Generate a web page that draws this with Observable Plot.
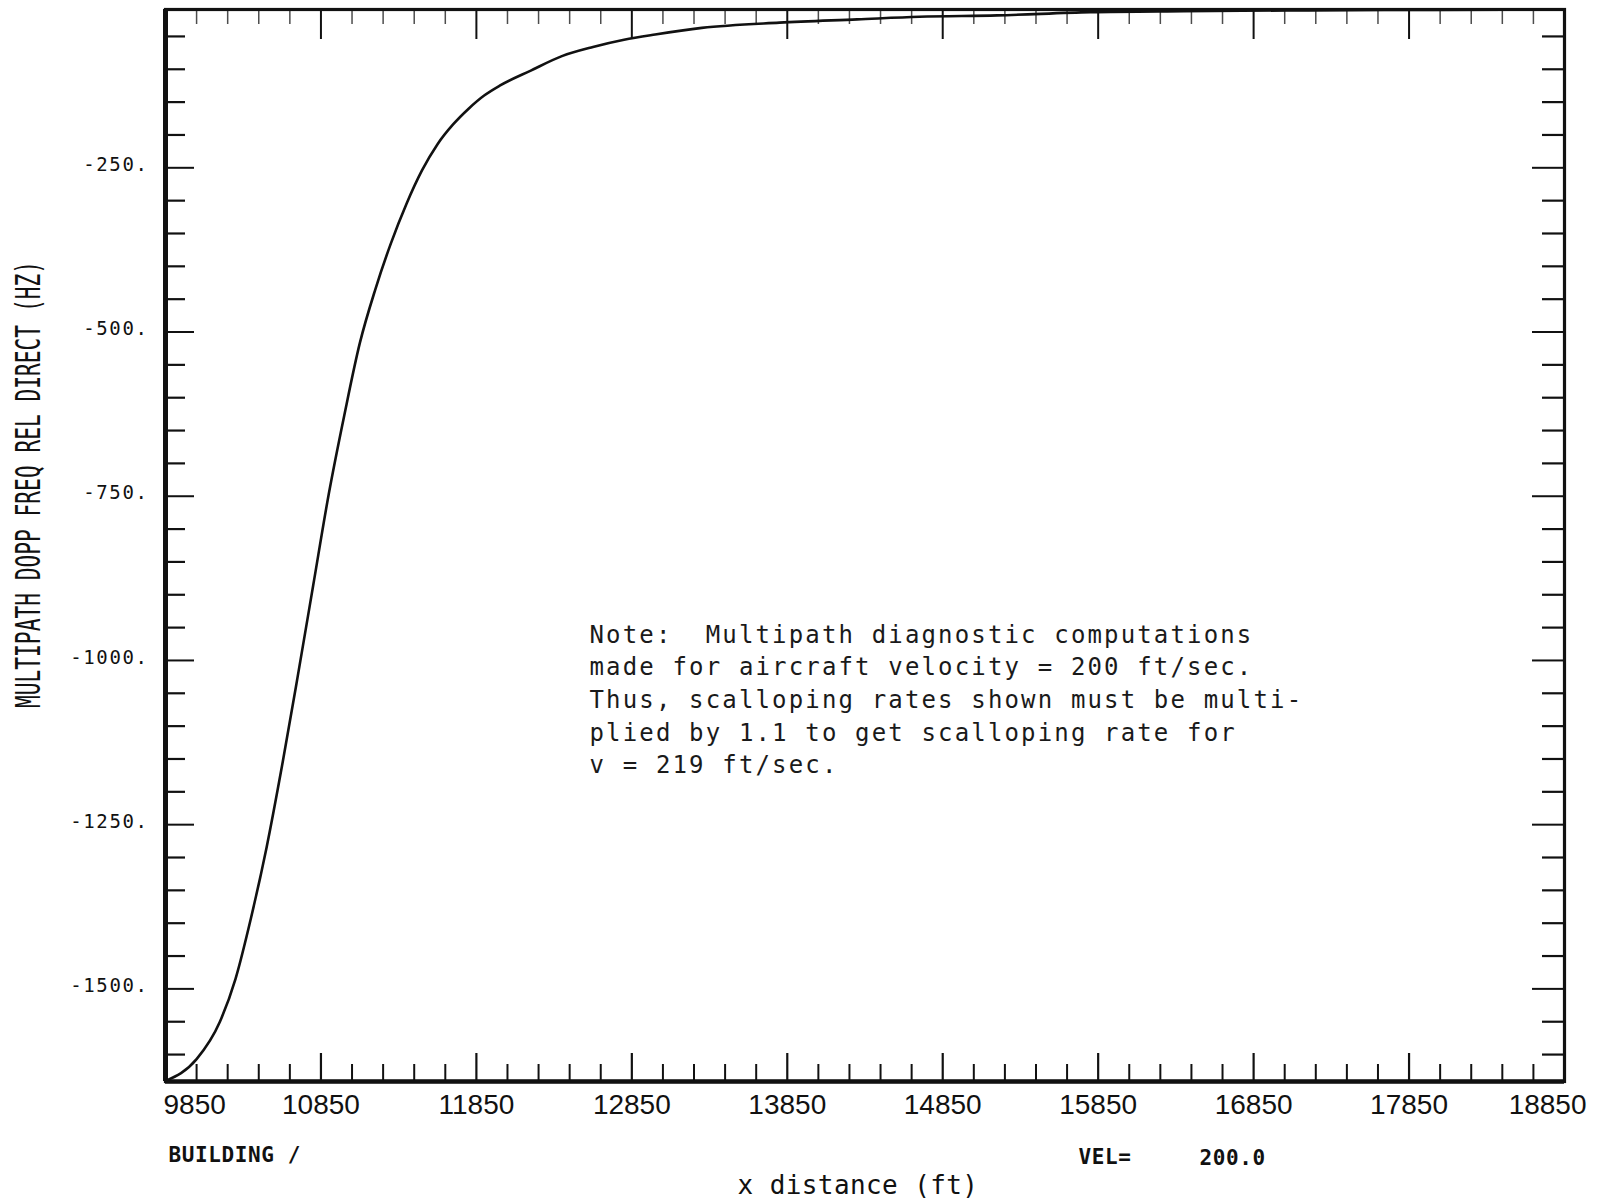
<!DOCTYPE html>
<html><head><meta charset="utf-8">
<script src="https://cdn.jsdelivr.net/npm/d3@7"></script>
<script src="https://cdn.jsdelivr.net/npm/@observablehq/plot@0.6"></script>
<style>body{margin:0;background:#fff} #chart svg{display:block;background:#fff}</style>
</head><body><div id="chart"></div>
<script>
// ---- data ----
const xDistance = [9850, 10050, 10200, 10300, 10400, 10500, 10600, 10700, 10800, 10900,
  11000, 11100, 11200, 11300, 11400, 11500, 11600, 11700, 11800, 11900,
  12000, 12200, 12400, 12600, 12800, 13000, 13300, 13800, 14300, 14700,
  15200, 15800, 16400, 17200, 18000, 18850];
const dopplerHz = [-1640, -1607, -1550, -1485, -1392, -1285, -1160, -1025, -886, -747,
  -627, -517, -435, -365, -305, -254, -214, -184, -160, -140,
  -125, -102, -80, -66, -55, -47, -37, -29, -24, -20,
  -18, -13, -11.5, -10.3, -9.5, -9];
const xTickLabels = [9850, 10850, 11850, 12850, 13850, 14850, 15850, 16850, 17850, 18850];
const yTickLabels = [-250, -500, -750, -1000, -1250, -1500];
const yAxisTitle = "MULTIPATH DOPP FREQ REL DIRECT (HZ)";
const xAxisTitle = "x distance (ft)";
const noteLines = [
  "Note:  Multipath diagnostic computations",
  "made for aircraft velocity = 200 ft/sec.",
  "Thus, scalloping rates shown must be multi-",
  "plied by 1.1 to get scalloping rate for",
  "v = 219 ft/sec."
];
const footBuilding = "BUILDING /";
const footVelLabel = "VEL=";
const footVelValue = "200.0";

// ---- layout ----
const W = 1597, H = 1204;
const mL = 165, mR = 33, mT = 9, mB = 123;
const pw = W - mL - mR, ph = H - mT - mB;
const xDomain = [9850, 18850];
const yDomain = [-1641, -9];

const data = xDistance.map((x, i) => ({x, y: dopplerHz[i]}));
const xMajor = xTickLabels.slice(1, -1);
const xMinor = d3.range(10050, 18850, 200).filter(v => (v - 9850) % 1000 !== 0);
const yMinor = d3.range(-50, -1601, -50).filter(v => v % 250 !== 0);

const mono = "DejaVu Sans Mono";
const ink = "#111";

const chart = Plot.plot({
  width: W, height: H,
  marginLeft: mL, marginRight: mR, marginTop: mT, marginBottom: mB,
  x: {domain: xDomain, axis: null},
  y: {domain: yDomain, axis: null},
  style: {background: "#fff", color: ink},
  marks: [
    // inward ticks: bottom
    Plot.tickX(xMinor, {x: d => d, insetTop: ph - 17, stroke: ink, strokeWidth: 2}),
    Plot.tickX(xMajor, {x: d => d, insetTop: ph - 28, stroke: ink, strokeWidth: 2.2}),
    // top
    Plot.tickX(xMinor, {x: d => d, insetBottom: ph - 15, stroke: ink, strokeWidth: 1.5, strokeOpacity: 0.75}),
    Plot.tickX(xMajor, {x: d => d, insetBottom: ph - 30, stroke: ink, strokeWidth: 2}),
    // left
    Plot.tickY(yMinor, {y: d => d, insetRight: pw - 20, stroke: ink, strokeWidth: 2.2}),
    Plot.tickY(yTickLabels, {y: d => d, insetRight: pw - 29, stroke: ink, strokeWidth: 2}),
    // right
    Plot.tickY(yMinor, {y: d => d, insetLeft: pw - 22, stroke: ink, strokeWidth: 2.2}),
    Plot.tickY(yTickLabels, {y: d => d, insetLeft: pw - 32, stroke: ink, strokeWidth: 2}),
    // frame
    Plot.frame({stroke: ink, strokeWidth: 3.2}),
    Plot.ruleX([xDomain[0]], {stroke: ink, strokeWidth: 5}),
    Plot.ruleY([yDomain[0]], {stroke: ink, strokeWidth: 4.5}),
    // curve
    Plot.line(data, {x: "x", y: "y", curve: "monotone-x", stroke: ink, strokeWidth: 2.6}),
    // y tick labels
    Plot.text(yTickLabels, {y: d => d, text: d => d + ".", frameAnchor: "left", textAnchor: "end", dx: -17, dy: -3,
      fontFamily: mono, fontSize: 19, fill: ink}),
    // x tick labels
    Plot.text(xTickLabels.slice(0, 1), {x: d => d, text: d => String(d), frameAnchor: "bottom", textAnchor: "start", dx: -2, dy: 32,
      fontFamily: "Liberation Sans", fontSize: 28, fill: ink}),
    Plot.text(xTickLabels.slice(1, -1), {x: d => d, text: d => String(d), frameAnchor: "bottom", textAnchor: "middle", dy: 32,
      fontFamily: "Liberation Sans", fontSize: 28, fill: ink}),
    Plot.text(xTickLabels.slice(-1), {x: d => d, text: d => String(d), frameAnchor: "bottom", textAnchor: "end", dx: 22, dy: 32,
      fontFamily: "Liberation Sans", fontSize: 28, fill: ink}),
    // y axis title
    Plot.text([yAxisTitle], {text: d => d, frameAnchor: "left", rotate: -90, textAnchor: "middle", dx: -136, dy: -61,
      fontFamily: mono, fontSize: 33, fill: ink}),
    // x axis title
    Plot.text([xAxisTitle], {text: d => d, frameAnchor: "bottom", textAnchor: "middle", dx: -7, dy: 112,
      fontFamily: mono, fontSize: 26, fill: ink}),
    // note
    Plot.text([noteLines.join("\n")], {text: d => d, frameAnchor: "top-left", textAnchor: "start", lineAnchor: "middle",
      dx: 424, dy: 688, lineHeight: 32.6 / 24, fontFamily: mono, fontSize: 24, fill: "#1a1a1a"}),
    // footer annotations
    Plot.text([footBuilding], {text: d => d, frameAnchor: "bottom-left", textAnchor: "start", dx: 3, dy: 80,
      fontFamily: mono, fontSize: 21, fontWeight: "bold", fill: ink}),
    Plot.text([footVelLabel], {text: d => d, frameAnchor: "bottom-left", textAnchor: "start", dx: 913, dy: 82,
      fontFamily: mono, fontSize: 21, fontWeight: "bold", fill: ink}),
    Plot.text([footVelValue], {text: d => d, frameAnchor: "bottom-left", textAnchor: "start", dx: 1034, dy: 83,
      fontFamily: mono, fontSize: 21, fontWeight: "bold", fill: ink})
  ]
});

document.getElementById("chart").appendChild(chart);

// typographic adjustments (letter spacing / condensed plotter lettering)
const svg = d3.select(chart);
const yLabelSet = new Set(yTickLabels.map(d => d + "."));
svg.selectAll("text").each(function() {
  const t = this.textContent;
  const sel = d3.select(this);
  if (t === yAxisTitle) {
    sel.attr("textLength", 447).attr("lengthAdjust", "spacingAndGlyphs");
  } else if (yLabelSet.has(t)) {
    sel.style("letter-spacing", "1.6px");
  } else if (t === xAxisTitle) {
    sel.style("letter-spacing", "0.4px");
  } else if (t === footBuilding || t === footVelLabel || t === footVelValue) {
    sel.style("letter-spacing", "0.6px");
  }
});
svg.selectAll("tspan").each(function() {
  if (noteLines.includes(this.textContent)) d3.select(this).style("letter-spacing", "2.15px");
});
</script>
</body></html>
